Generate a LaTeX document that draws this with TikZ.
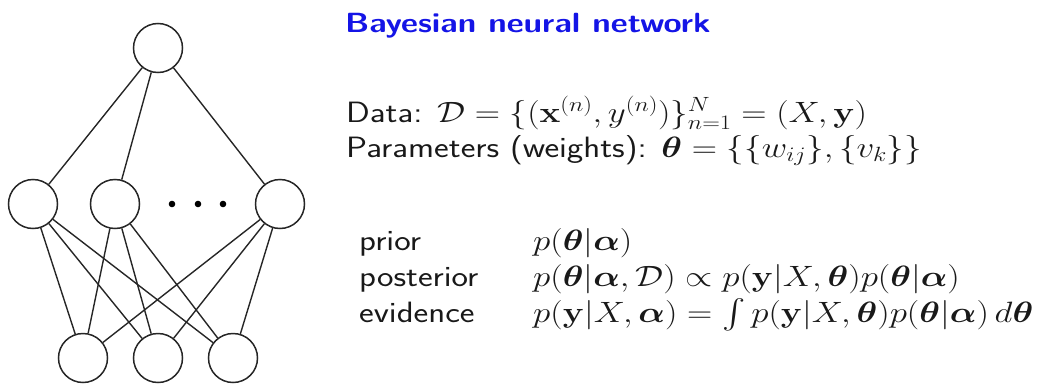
\RequirePackage{fix-cm}
\documentclass[tikz,border=0pt]{standalone}
\usepackage{amsmath,amssymb,bm,graphicx}
\definecolor{titleblue}{RGB}{20,20,230}
\newcommand{\squash}[1]{\scalebox{1}[0.84]{#1}}
\tikzset{
  neuron/.style={circle,draw=black!85,line width=1.5pt,minimum size=49pt,inner sep=0pt},
  conn/.style={draw=black!85,line width=1.4pt},
  txt/.style={anchor=base west,inner sep=0pt,text=black!90,font=\fontsize{35}{36}\selectfont\sffamily},
  ttl/.style={anchor=base west,inner sep=0pt,text=titleblue,font=\fontsize{33}{36}\selectfont\sffamily\bfseries}
}
\begin{document}
\begin{tikzpicture}[x=1pt,y=1pt]
\useasboundingbox (0,0) rectangle (1038,-388);
% network
\node[neuron] (t) at (158,-48) {};
\node[neuron] (h1) at (33,-204) {};
\node[neuron] (h2) at (115,-204) {};
\node[neuron] (h3) at (280,-204) {};
\node[neuron] (b1) at (83,-358) {};
\node[neuron] (b2) at (158,-358) {};
\node[neuron] (b3) at (233,-358) {};
\foreach \h in {h1,h2,h3} {
  \draw[conn] (t) -- (\h);
  \foreach \b in {b1,b2,b3} \draw[conn] (\h) -- (\b);
}
\foreach \x [count=\i] in {172,198,223} \fill (\x,-204) circle (3.3pt) coordinate (d\i);
% text
\node[ttl] (title) at (345,-32) {\squash{Bayesian neural network}};
\node[txt] (data) at (346,-122) {\squash{Data: $\mathcal{D}=\{(\mathbf{x}^{(n)},y^{(n)})\}_{n=1}^{N}=(X,\mathbf{y})$}};
\node[txt] (par) at (346,-157) {\squash{Parameters (weights): $\bm{\theta}=\{\{w_{ij}\},\{v_k\}\}$}};
\node[txt] (l1) at (359,-250) {\squash{prior}};
\node[txt] (l2) at (359,-286) {\squash{posterior}};
\node[txt] (l3) at (359,-322) {\squash{evidence}};
\node[txt] (m1) at (533,-250) {\squash{$p(\bm{\theta}|\bm{\alpha})$}};
\node[txt] (m2) at (533,-286) {\squash{$p(\bm{\theta}|\bm{\alpha},\mathcal{D})\propto p(\mathbf{y}|X,\bm{\theta})p(\bm{\theta}|\bm{\alpha})$}};
\node[txt] (m3) at (533,-322) {\squash{$p(\mathbf{y}|X,\bm{\alpha})=\int p(\mathbf{y}|X,\bm{\theta})p(\bm{\theta}|\bm{\alpha})\,d\bm{\theta}$}};
\end{tikzpicture}
\end{document}
